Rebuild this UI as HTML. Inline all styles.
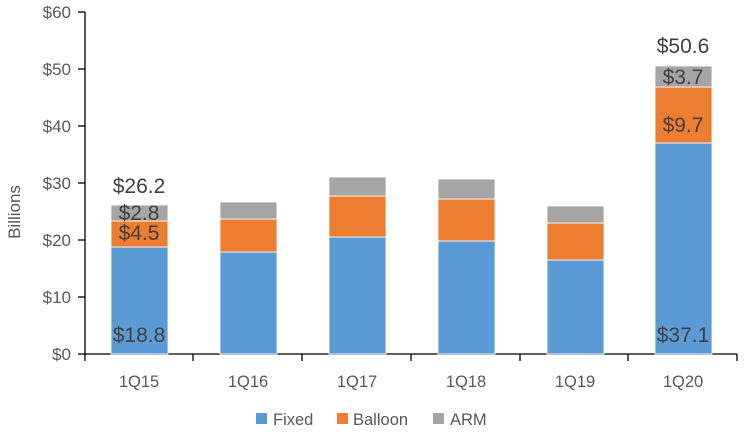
<!DOCTYPE html><html><head><style>body{margin:0;background:#fff}</style></head><body>
<svg width="750" height="438" xmlns="http://www.w3.org/2000/svg" font-family="Liberation Sans, sans-serif">
<g font-size="17" fill="#595959" text-anchor="end">
<text x="71" y="360">$0</text><text x="71" y="303">$10</text><text x="71" y="246">$20</text><text x="71" y="189">$30</text><text x="71" y="132">$40</text><text x="71" y="75">$50</text><text x="71" y="18">$60</text>
</g>
<text transform="translate(20,212) rotate(-90)" font-size="17" fill="#595959" text-anchor="middle">Billions</text>
<g stroke="#000" stroke-width="1.3">
<line x1="85" y1="12" x2="85" y2="354"/>
<line x1="85" y1="354" x2="737" y2="354"/>
<line x1="78" y1="354" x2="85" y2="354"/><line x1="78" y1="297" x2="85" y2="297"/><line x1="78" y1="240" x2="85" y2="240"/><line x1="78" y1="183" x2="85" y2="183"/><line x1="78" y1="126" x2="85" y2="126"/><line x1="78" y1="69" x2="85" y2="69"/><line x1="78" y1="12" x2="85" y2="12"/>
<line x1="85" y1="354" x2="85" y2="361"/><line x1="193" y1="354" x2="193" y2="361"/><line x1="302" y1="354" x2="302" y2="361"/><line x1="411" y1="354" x2="411" y2="361"/><line x1="520" y1="354" x2="520" y2="361"/><line x1="628" y1="354" x2="628" y2="361"/><line x1="737" y1="354" x2="737" y2="361"/>
</g>
<g stroke="#fff" stroke-width="0.8">
<rect x="111" y="247" width="57" height="107" fill="#5B9BD5"/><rect x="111" y="221" width="57" height="26" fill="#ED7D31"/><rect x="111" y="205" width="57" height="16" fill="#A5A5A5"/>
<rect x="220" y="252" width="57" height="102" fill="#5B9BD5"/><rect x="220" y="219" width="57" height="33" fill="#ED7D31"/><rect x="220" y="202" width="57" height="17" fill="#A5A5A5"/>
<rect x="329" y="237" width="57" height="117" fill="#5B9BD5"/><rect x="329" y="196" width="57" height="41" fill="#ED7D31"/><rect x="329" y="177" width="57" height="19" fill="#A5A5A5"/>
<rect x="438" y="241" width="57" height="113" fill="#5B9BD5"/><rect x="438" y="199" width="57" height="42" fill="#ED7D31"/><rect x="438" y="179" width="57" height="20" fill="#A5A5A5"/>
<rect x="547" y="260" width="57" height="94" fill="#5B9BD5"/><rect x="547" y="223" width="57" height="37" fill="#ED7D31"/><rect x="547" y="206" width="57" height="17" fill="#A5A5A5"/>
<rect x="655" y="143" width="57" height="211" fill="#5B9BD5"/><rect x="655" y="87" width="57" height="56" fill="#ED7D31"/><rect x="655" y="66" width="57" height="21" fill="#A5A5A5"/>
</g>
<g font-size="21" fill="#404040" text-anchor="middle">
<text x="139" y="193">$26.2</text><text x="139" y="220">$2.8</text><text x="139" y="240">$4.5</text><text x="139" y="342">$18.8</text>
<text x="683" y="53">$50.6</text><text x="683" y="84">$3.7</text><text x="683" y="132">$9.7</text><text x="683" y="342">$37.1</text>
</g>
<g font-size="16.5" fill="#595959" text-anchor="middle">
<text x="139" y="387">1Q15</text><text x="248" y="387">1Q16</text><text x="357" y="387">1Q17</text><text x="466" y="387">1Q18</text><text x="575" y="387">1Q19</text><text x="683" y="387">1Q20</text>
</g>
<g font-size="16.5" fill="#595959">
<rect x="256" y="413" width="11" height="11" fill="#5B9BD5"/><text x="273" y="425">Fixed</text>
<rect x="337" y="413" width="11" height="11" fill="#ED7D31"/><text x="353" y="425">Balloon</text>
<rect x="433" y="413" width="11" height="11" fill="#A5A5A5"/><text x="450" y="425">ARM</text>
</g>
</svg>
</body></html>
